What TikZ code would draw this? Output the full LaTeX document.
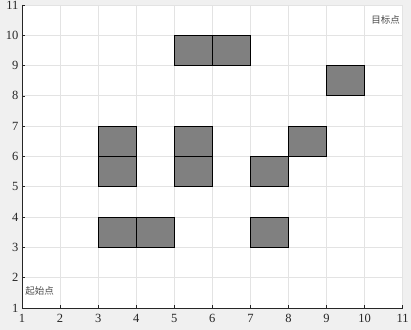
\documentclass[tikz,border=0pt]{standalone}
\usepackage{fontspec}
\setmainfont{Liberation Serif}
\newfontfamily\cjk{Noto Sans CJK SC}
\definecolor{bgc}{HTML}{F0F0F0}
\definecolor{gridc}{HTML}{E3E3E3}
\definecolor{axc}{HTML}{262626}
\definecolor{cellc}{HTML}{808080}
\begin{document}
\begin{tikzpicture}[x=38.07pt,y=30.3pt,
  cell/.style={draw=black,fill=cellc,line width=0.9pt,minimum width=38.07pt,minimum height=30.3pt,inner sep=0pt},
  tick/.style={font=\fontsize{12.5}{13}\selectfont,text=axc,inner sep=0pt},
  lbl/.style={font=\cjk\fontsize{9.5}{10}\selectfont,text=black!70,inner sep=0pt}]
\fill[bgc] (0.422,0.274) rectangle (11.218,11.165);
\useasboundingbox (0.422,0.274) rectangle (11.218,11.165);
\fill[white] (1,1) rectangle (11,11);
\foreach \i in {2,...,10}{
  \draw[gridc,line width=0.8pt] (\i,1) -- (\i,11);
  \draw[gridc,line width=0.8pt] (1,\i) -- (11,\i);
}
\draw[gridc,line width=0.8pt] (1,11) -- (11,11) -- (11,1);
% cells
\foreach \x/\y/\n in {3.5/3.5/a,4.5/3.5/b,3.5/5.5/c,3.5/6.5/d,5.5/5.5/e,5.5/6.5/f,7.5/5.5/g,8.5/6.5/h,7.5/3.5/i,5.5/9.5/j,6.5/9.5/k,9.5/8.5/l}
  \node[cell] (\n) at (\x,\y) {};
% axes
\draw[axc,line width=0.8pt] (1,11) -- (1,1) -- (11,1);
\foreach \i in {1,...,11}{
  \draw[axc,line width=0.6pt] (\i,1) -- ++(0,3pt);
  \draw[axc,line width=0.6pt] (1,\i) -- ++(3pt,0);
  \node[tick,anchor=north] (xt\i) at ([yshift=-6pt]\i,1) {\i};
  \node[tick,anchor=east] (yt\i) at ([xshift=-3.5pt]1,\i) {\i};
}
\node[lbl,anchor=west] (start) at (1.08,1.55) {起始点};
\node[lbl,anchor=east] (goal) at (10.93,10.5) {目标点};
\end{tikzpicture}
\end{document}
